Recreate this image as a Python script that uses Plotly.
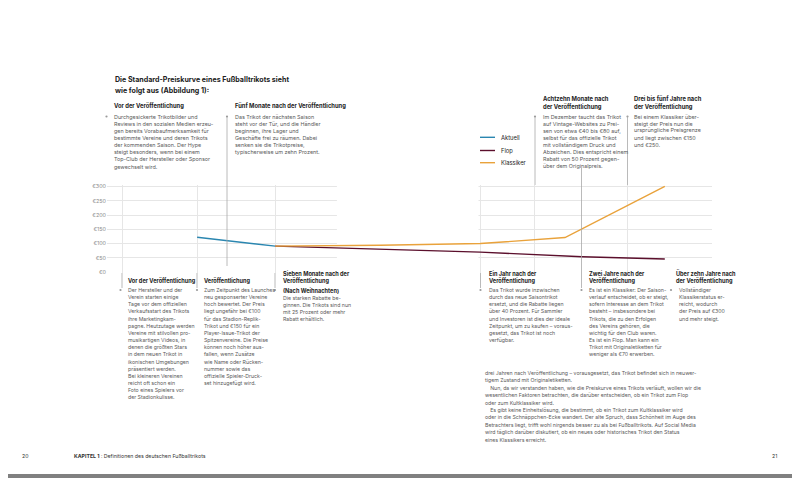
import plotly.graph_objects as go

# Preiskurve (x = Position auf der Zeitachse, y = Preis in Euro)
aktuell_x = [14.9, 27.8]
aktuell_y = [122, 91]
flop_x = [27.8, 45.1, 61.7, 78.5, 92.2]
flop_y = [91, 80, 70, 54, 46]
klassiker_x = [27.8, 45.1, 61.7, 75.7, 92.2]
klassiker_y = [91, 94, 100, 121, 300]

serien = ["Aktuell", "Flop", "Klassiker"]
farben = ["#2a86b0", "#5b0f2c", "#e9a23b"]

y_ticks = [0, 50, 100, 150, 200, 250, 300]
y_labels = ["€0", "€50", "€100", "€150", "€200", "€250", "€300"]
x_raster = [2.5, 14.9, 27.8, 61.7, 70.7, 86.1]

# Seitenlayout in Bildschirm-Pixeln (die Seite hat 8 px Rand)
RAND = 8
L, R, T, B = 107, 712, 185, 273
W, H = R - L, B - T
FONT = "Inter"


def fx(x):
    return (x - L) / W


def fy(y):
    return 1 - (y - T) / H


annos = []
shapes = []


def block(x, y0, lines, size=5.4, color="#5a5a5a", dy=7.15, bold=False):
    for i, t in enumerate(lines):
        annos.append(dict(
            x=fx(x), y=fy(y0 + i * dy), xref="paper", yref="paper",
            text=("<b>%s</b>" % t) if bold else t, showarrow=False,
            xanchor="left", yanchor="middle",
            font=dict(family=FONT, size=size, color=color)))


def punkt(x, y):
    shapes.append(dict(type="circle", xref="paper", yref="paper",
                       x0=fx(x - 1.1), x1=fx(x + 1.1), y0=fy(y - 1.1), y1=fy(y + 1.1),
                       fillcolor="#9a9a9a", line=dict(width=0)))


def linie(x, y0, y1, color="#a8a8a8", w=0.8):
    shapes.append(dict(type="line", xref="paper", yref="paper",
                       x0=fx(x), x1=fx(x), y0=fy(y0), y1=fy(y1),
                       line=dict(color=color, width=w)))


fig = go.Figure()
fig.add_trace(go.Scatter(x=aktuell_x, y=aktuell_y, mode="lines", name=serien[0],
                         line=dict(color=farben[0], width=1.4)))
fig.add_trace(go.Scatter(x=flop_x, y=flop_y, mode="lines", name=serien[1],
                         line=dict(color=farben[1], width=1.4)))
fig.add_trace(go.Scatter(x=klassiker_x, y=klassiker_y, mode="lines", name=serien[2],
                         line=dict(color=farben[2], width=1.4)))

# Lücke im Raster (Bundsteg)
shapes.append(dict(type="rect", xref="x", yref="y", x0=38.0, x1=61.4, y0=-3, y1=305,
                   fillcolor="white", line=dict(width=0), layer="between"))

# Titel
block(113, 80, ["Die Standard-Preiskurve eines Fußballtrikots sieht",
                "wie folgt aus (Abbildung 1):"], size=7.1, color="#222222", dy=10, bold=True)

# Legende
for i, (n, c) in enumerate(zip(serien, farben)):
    yy = [137.3, 150.5, 162.7][i]
    shapes.append(dict(type="line", xref="paper", yref="paper",
                       x0=fx(480), x1=fx(495), y0=fy(yy), y1=fy(yy),
                       line=dict(color=c, width=1.4)))
    block(498.5, yy, [n], size=5.8, color="#222222")

# obere Anmerkungen
block(112, 105, ["Vor der Veröffentlichung"], size=5.8, color="#222222", bold=True)
punkt(106.5, 116.5)
block(112, 116.5, [
    "Durchgesickerte Trikotbilder und",
    "Reviews in den sozialen Medien erzeu-",
    "gen bereits Vorabaufmerksamkeit für",
    "bestimmte Vereine und deren Trikots",
    "der kommenden Saison. Der Hype",
    "steigt besonders, wenn bei einem",
    "Top-Club der Hersteller oder Sponsor",
    "gewechselt wird."])

block(233, 105, ["Fünf Monate nach der Veröffentlichung"], size=5.8, color="#222222", bold=True)
punkt(227, 116.5)
linie(227, 116.5, 266)
block(233, 116.5, [
    "Das Trikot der nächsten Saison",
    "steht vor der Tür, und die Händler",
    "beginnen, ihre Lager und",
    "Geschäfte frei zu räumen. Dabei",
    "senken sie die Trikotpreise,",
    "typischerweise um zehn Prozent."])

block(541, 98.5, ["Achtzehn Monate nach", "der Veröffentlichung"], size=5.8,
      color="#222222", dy=7.6, bold=True)
punkt(535, 116.5)
linie(535, 116.5, 185)
block(541, 116.5, [
    "Im Dezember taucht das Trikot",
    "auf Vintage-Websites zu Prei-",
    "sen von etwa €40 bis €80 auf,",
    "selbst für das offizielle Trikot",
    "mit vollständigem Druck und",
    "Abzeichen. Dies entspricht einem",
    "Rabatt von 50 Prozent gegen-",
    "über dem Originalpreis."])

block(632, 98.5, ["Drei bis fünf Jahre nach", "der Veröffentlichung"], size=5.8,
      color="#222222", dy=7.6, bold=True)
punkt(627.5, 116.5)
linie(627.5, 116.5, 185)
block(632, 116.5, [
    "Bei einem Klassiker über-",
    "steigt der Preis nun die",
    "ursprüngliche Preisgrenze",
    "und liegt zwischen €150",
    "und €250."])

# untere Anmerkungen
block(126, 280, ["Vor der Veröffentlichung"], size=5.6, color="#222222", bold=True)
punkt(120.5, 290)
linie(122, 273, 288)
block(126, 290, [
    "Der Hersteller und der",
    "Verein starten einige",
    "Tage vor dem offiziellen",
    "Verkaufsstart des Trikots",
    "ihre Marketingkam-",
    "pagne. Heutzutage werden",
    "Vereine mit stilvollen pro-",
    "musikartigen Videos, in",
    "denen die größten Stars",
    "in dem neuen Trikot in",
    "ikonischen Umgebungen",
    "präsentiert werden.",
    "Bei kleineren Vereinen",
    "reicht oft schon ein",
    "Foto eines Spielers vor",
    "der Stadionkulisse."], size=5.2)

block(202, 280, ["Veröffentlichung"], size=5.6, color="#222222", bold=True)
punkt(197, 290)
linie(197, 273, 288)
block(202, 290, [
    "Zum Zeitpunkt des Launches",
    "neu gesponserter Vereine",
    "hoch bewertet. Der Preis",
    "liegt ungefähr bei €100",
    "für das Stadion-Replik-",
    "Trikot und €150 für ein",
    "Player-Issue-Trikot der",
    "Spitzenvereine. Die Preise",
    "können noch höher aus-",
    "fallen, wenn Zusätze",
    "wie Name oder Rücken-",
    "nummer sowie das",
    "offizielle Spieler-Druck-",
    "set hinzugefügt wird."], size=5.2)

block(281, 273, ["Sieben Monate nach der", "Veröffentlichung"], size=5.6,
      color="#222222", dy=7.6, bold=True)
punkt(275, 290)
linie(275, 273, 288)
block(281, 290, ["(Nach Weihnachten)"], size=5.6, color="#222222", bold=True)
block(281, 297.5, [
    "Die starken Rabatte be-",
    "ginnen. Die Trikots sind nun",
    "mit 25 Prozent oder mehr",
    "Rabatt erhältlich."], size=5.2)

block(487, 273, ["Ein Jahr nach der", "Veröffentlichung"], size=5.6,
      color="#222222", dy=7.6, bold=True)
punkt(480.5, 290)
linie(480.5, 273, 288)
block(487, 290, [
    "Das Trikot wurde inzwischen",
    "durch das neue Saisontrikot",
    "ersetzt, und die Rabatte liegen",
    "über 40 Prozent. Für Sammler",
    "und Investoren ist dies der ideale",
    "Zeitpunkt, um zu kaufen – voraus-",
    "gesetzt, das Trikot ist noch",
    "verfügbar."], size=5.2)

block(587, 273, ["Zwei Jahre nach der", "Veröffentlichung"], size=5.6,
      color="#222222", dy=7.6, bold=True)
punkt(581.5, 290)
linie(581.5, 168, 288)
block(587, 290, [
    "Es ist ein Klassiker: Der Saison-",
    "verlauf entscheidet, ob er steigt,",
    "sofern Interesse an dem Trikot",
    "besteht – insbesondere bei",
    "Trikots, die zu den Erfolgen",
    "des Vereins gehören, die",
    "wichtig für den Club waren.",
    "Es ist ein Flop. Man kann ein",
    "Trikot mit Originaletiketten für",
    "weniger als €70 erwerben."], size=5.2)

block(674, 273, ["Über zehn Jahre nach", "der Veröffentlichung"], size=5.6,
      color="#222222", dy=7.6, bold=True)
punkt(671, 290)
block(677, 290, [
    "Vollständiger",
    "Klassikerstatus er-",
    "reicht, wodurch",
    "der Preis auf €300",
    "und mehr steigt."], size=5.2)

# Fließtext rechte Seite
block(483, 373, [
    "drei Jahren nach Veröffentlichung – vorausgesetzt, das Trikot befindet sich in neuwer-",
    "tigem Zustand mit Originaletiketten.",
    "\u2003Nun, da wir verstanden haben, wie die Preiskurve eines Trikots verläuft, wollen wir die",
    "wesentlichen Faktoren betrachten, die darüber entscheiden, ob ein Trikot zum Flop",
    "oder zum Kultklassiker wird.",
    "\u2003Es gibt keine Einheitslösung, die bestimmt, ob ein Trikot zum Kultklassiker wird",
    "oder in die Schnäppchen-Ecke wandert. Der alte Spruch, dass Schönheit im Auge des",
    "Betrachters liegt, trifft wohl nirgends besser zu als bei Fußballtrikots. Auf Social Media",
    "wird täglich darüber diskutiert, ob ein neues oder historisches Trikot den Status",
    "eines Klassikers erreicht."], size=5.2, dy=7.4)

# Fußzeile
block(20, 456, ["20"], size=5.2, color="#333333")
annos.append(dict(x=fx(72), y=fy(456), xref="paper", yref="paper", showarrow=False,
                  xanchor="left", yanchor="middle",
                  text="<b>KAPITEL 1</b> : Definitionen des deutschen Fußballtrikots",
                  font=dict(family=FONT, size=5.2, color="#333333")))
annos.append(dict(x=fx(779), y=fy(456), xref="paper", yref="paper", showarrow=False,
                  xanchor="right", yanchor="middle", text="21",
                  font=dict(family=FONT, size=5.2, color="#333333")))
shapes.append(dict(type="rect", xref="paper", yref="paper", x0=fx(0), x1=fx(800),
                   y0=fy(474), y1=fy(478), fillcolor="#808080", line=dict(width=0)))

fig.update_layout(
    width=800, height=478,
    margin=dict(l=L - RAND, r=800 - R + RAND, t=T - RAND, b=478 - B + RAND),
    paper_bgcolor="white", plot_bgcolor="white",
    showlegend=False,
    annotations=annos, shapes=shapes,
    font=dict(family=FONT, size=5.4, color="#5a5a5a"),
    xaxis=dict(range=[0, 100], tickvals=x_raster, showticklabels=False,
               showgrid=True, gridcolor="#e6e6e6", gridwidth=0.7,
               zeroline=False, showline=False, ticks="", fixedrange=True),
    yaxis=dict(range=[-3, 305], tickvals=y_ticks, ticktext=y_labels,
               showgrid=True, gridcolor="#e6e6e6", gridwidth=0.7,
               zeroline=False, showline=False, ticks="",
               tickfont=dict(family=FONT, size=5.4, color="#8a8a8a"), fixedrange=True),
)

fig.write_html("out.html")
